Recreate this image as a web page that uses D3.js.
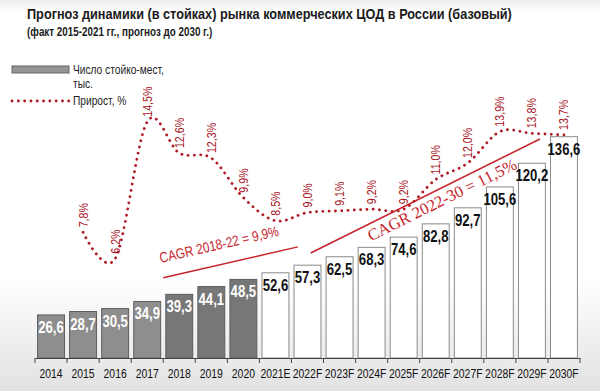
<!DOCTYPE html>
<html>
<head>
<meta charset="utf-8">
<script src="https://cdn.jsdelivr.net/npm/d3@7"></script>
<style>
  body { margin: 0; background: #fff; }
  svg text { font-family: "Liberation Sans", Arial, sans-serif; }
</style>
</head>
<body>
<div id="chart"></div>
<script>
const years = ['2014', '2015', '2016', '2017', '2018', '2019', '2020', '2021E', '2022F', '2023F', '2024F', '2025F', '2026F', '2027F', '2028F', '2029F', '2030F']
const racks = [26.6, 28.7, 30.5, 34.9, 39.3, 44.1, 48.5, 52.6, 57.3, 62.5, 68.3, 74.6, 82.8, 92.7, 105.6, 120.2, 136.6]
const growth = [null, 7.8, 6.2, 14.5, 12.6, 12.3, 9.9, 8.5, 9.0, 9.1, 9.2, 9.2, 11.0, 12.0, 13.9, 13.8, 13.7]
const darkYears = ['2018', '2019', '2020']

const title = 'Прогноз динамики (в стойках) рынка коммерческих ЦОД в России (базовый)'
const subtitle = '(факт 2015-2021 гг., прогноз до 2030 г.)'
const legendBar = ['Число стойко-мест,', 'тыс.']
const legendLine = 'Прирост, %'
const cagr1 = 'CAGR 2018-22 = 9,9%'
const cagr2 = 'CAGR 2022-30 = 11,5%'

const width = 600
const height = 391
const red = '#b01c25'

const ru = d3.formatLocale({decimal: ',', thousands: ' ', grouping: [3], currency: ['', '']})
const fmt = ru.format('.1f')

// no Arial Narrow installed -> squeeze Liberation Sans horizontally
function narrow(sel, k = 0.82) {
  sel.each(function() {
    const t = d3.select(this)
    const xv = +t.attr('x') || 0
    t.attr('x', xv / k)
    t.attr('transform', (t.attr('transform') || '') + ` scale(${k},1)`)
  })
}

const svg = d3.select('#chart').append('svg')
  .attr('width', width)
  .attr('height', height)

// background
const grad = svg.append('defs').append('linearGradient')
  .attr('id', 'bg').attr('x1', 0).attr('y1', 0).attr('x2', 0).attr('y2', 1)
grad.append('stop').attr('offset', '0').attr('stop-color', '#eeeeee')
grad.append('stop').attr('offset', '0.03').attr('stop-color', '#ffffff')
grad.append('stop').attr('offset', '0.72').attr('stop-color', '#ffffff')
grad.append('stop').attr('offset', '1').attr('stop-color', '#e2e2e2')
svg.append('rect').attr('width', width).attr('height', height).attr('fill', 'url(#bg)')

// scales
const x = d3.scaleBand().domain(years).range([35, 580]).paddingInner(0.16).paddingOuter(0.08)
const yBar = d3.scaleLinear().domain([0, 140]).range([358, 131.2])
const yPct = d3.scaleLinear().domain([0, 15]).range([361, 113.5])
const cx = d => x(d) + x.bandwidth() / 2
const xAt = (d, f) => x(d) - x.step() * x.paddingInner() / 2 + x.step() * f

const isForecast = d => /[EF]$/.test(d)
const barFill = d => isForecast(d) ? '#ffffff' : (darkYears.includes(d) ? '#777777' : '#8e8e8e')

// bars
svg.append('g').selectAll('rect')
  .data(years)
  .join('rect')
  .attr('x', d => x(d))
  .attr('y', (d, i) => yBar(racks[i]))
  .attr('width', x.bandwidth())
  .attr('height', (d, i) => yBar(0) - yBar(racks[i]))
  .attr('fill', barFill)
  .attr('stroke', d => isForecast(d) ? '#8a8a8a' : '#5e5e5e')
  .attr('stroke-width', 1)

svg.append('g').selectAll('text')
  .data(years)
  .join('text')
  .attr('x', d => cx(d))
  .attr('y', (d, i) => yBar(racks[i]) + 18)
  .attr('text-anchor', 'middle')
  .attr('font-size', 16)
  .attr('font-weight', 'bold')
  .attr('fill', d => isForecast(d) ? '#111' : '#fff')
  .text((d, i) => fmt(racks[i]))
  .call(narrow)

// axis
const axis = svg.append('g').attr('transform', `translate(0,${yBar(0)})`)
axis.call(d3.axisBottom(x).tickSize(0).tickPadding(11))
axis.select('.domain').attr('stroke', '#444')
axis.selectAll('text')
  .attr('font-size', 13).attr('fill', '#111')
  .attr('font-family', '"Liberation Sans", Arial, sans-serif')
  .call(narrow, 0.8)
axis.selectAll('.bound')
  .data(years.concat(['end']))
  .join('line')
  .attr('class', 'bound')
  .attr('x1', (d, i) => i < years.length ? xAt(d, 0) : xAt(years[years.length - 1], 1))
  .attr('x2', (d, i) => i < years.length ? xAt(d, 0) : xAt(years[years.length - 1], 1))
  .attr('y1', 0).attr('y2', 5)
  .attr('stroke', '#444')

// growth line
const pts = years.map((d, i) => [cx(d), growth[i]]).filter(p => p[1] != null)
const line = d3.line().x(p => p[0]).y(p => yPct(p[1])).curve(d3.curveCardinal.tension(0))
svg.append('path')
  .attr('d', line(pts))
  .attr('fill', 'none')
  .attr('stroke', red)
  .attr('stroke-width', 2.8)
  .attr('stroke-linecap', 'round')
  .attr('stroke-dasharray', '0.1 6.2')

svg.append('g').selectAll('text')
  .data(pts)
  .join('text')
  .attr('transform', p => `translate(${p[0] + 4.5},${yPct(p[1]) - 5}) rotate(-90)`)
  .attr('font-size', 13)
  .attr('fill', '#a5121d')
  .text(p => fmt(p[1]) + '%')
  .call(narrow)

// CAGR annotations
const c1a = [xAt('2018', 0), yBar(49.5)]
const c1b = [xAt('2022F', 0.2), yBar(68.6)]
const a1 = Math.atan2(c1b[1] - c1a[1], c1b[0] - c1a[0]) * 180 / Math.PI
svg.append('line')
  .attr('x1', c1a[0]).attr('y1', c1a[1]).attr('x2', c1b[0]).attr('y2', c1b[1])
  .attr('stroke', '#c8242c').attr('stroke-width', 1.5)
svg.append('text')
  .attr('transform', `translate(${c1a[0]},${c1a[1]}) rotate(${a1})`)
  .attr('x', 1).attr('y', -15)
  .attr('font-size', 14.5)
  .attr('fill', '#c8242c')
  .text(cagr1)
  .call(narrow)

const c2a = [xAt('2022F', 0.6), yBar(64.8)]
const c2b = [xAt('2029F', 0.75), yBar(135.2)]
const a2 = Math.atan2(c2b[1] - c2a[1], c2b[0] - c2a[0]) * 180 / Math.PI
svg.append('line')
  .attr('x1', c2a[0]).attr('y1', c2a[1]).attr('x2', c2b[0]).attr('y2', c2b[1])
  .attr('stroke', '#c8242c').attr('stroke-width', 1.5)
svg.append('text')
  .attr('transform', `translate(${c2a[0]},${c2a[1]}) rotate(${a2})`)
  .attr('x', 59).attr('y', 16.5)
  .attr('font-size', 16.5)
  .attr('fill', '#c8242c')
  .style('font-family', '"Liberation Serif", "Times New Roman", serif')
  .text(cagr2)

// titles
svg.append('text')
  .attr('x', 27).attr('y', 19)
  .attr('font-size', 15.5).attr('font-weight', 'bold').attr('fill', '#1a1a1a')
  .text(title)
  .call(narrow)
svg.append('text')
  .attr('x', 27).attr('y', 36)
  .attr('font-size', 12).attr('font-weight', 'bold').attr('fill', '#1a1a1a')
  .text(subtitle)
  .call(narrow)

// legend
svg.append('rect')
  .attr('x', 12).attr('y', 66).attr('width', 57).attr('height', 7)
  .attr('fill', '#959595').attr('stroke', '#666')
svg.append('g').selectAll('text')
  .data(legendBar)
  .join('text')
  .attr('x', 73).attr('y', (d, i) => 74 + i * 14)
  .attr('font-size', 12).attr('fill', '#222')
  .text(d => d)
  .call(narrow, 0.85)
svg.append('line')
  .attr('x1', 12).attr('x2', 70).attr('y1', 101).attr('y2', 101)
  .attr('stroke', red).attr('stroke-width', 2.8)
  .attr('stroke-linecap', 'round').attr('stroke-dasharray', '0.1 6.2')
svg.append('text')
  .attr('x', 73).attr('y', 105)
  .attr('font-size', 12).attr('fill', '#222')
  .text(legendLine)
  .call(narrow, 0.85)
</script>
</body>
</html>
